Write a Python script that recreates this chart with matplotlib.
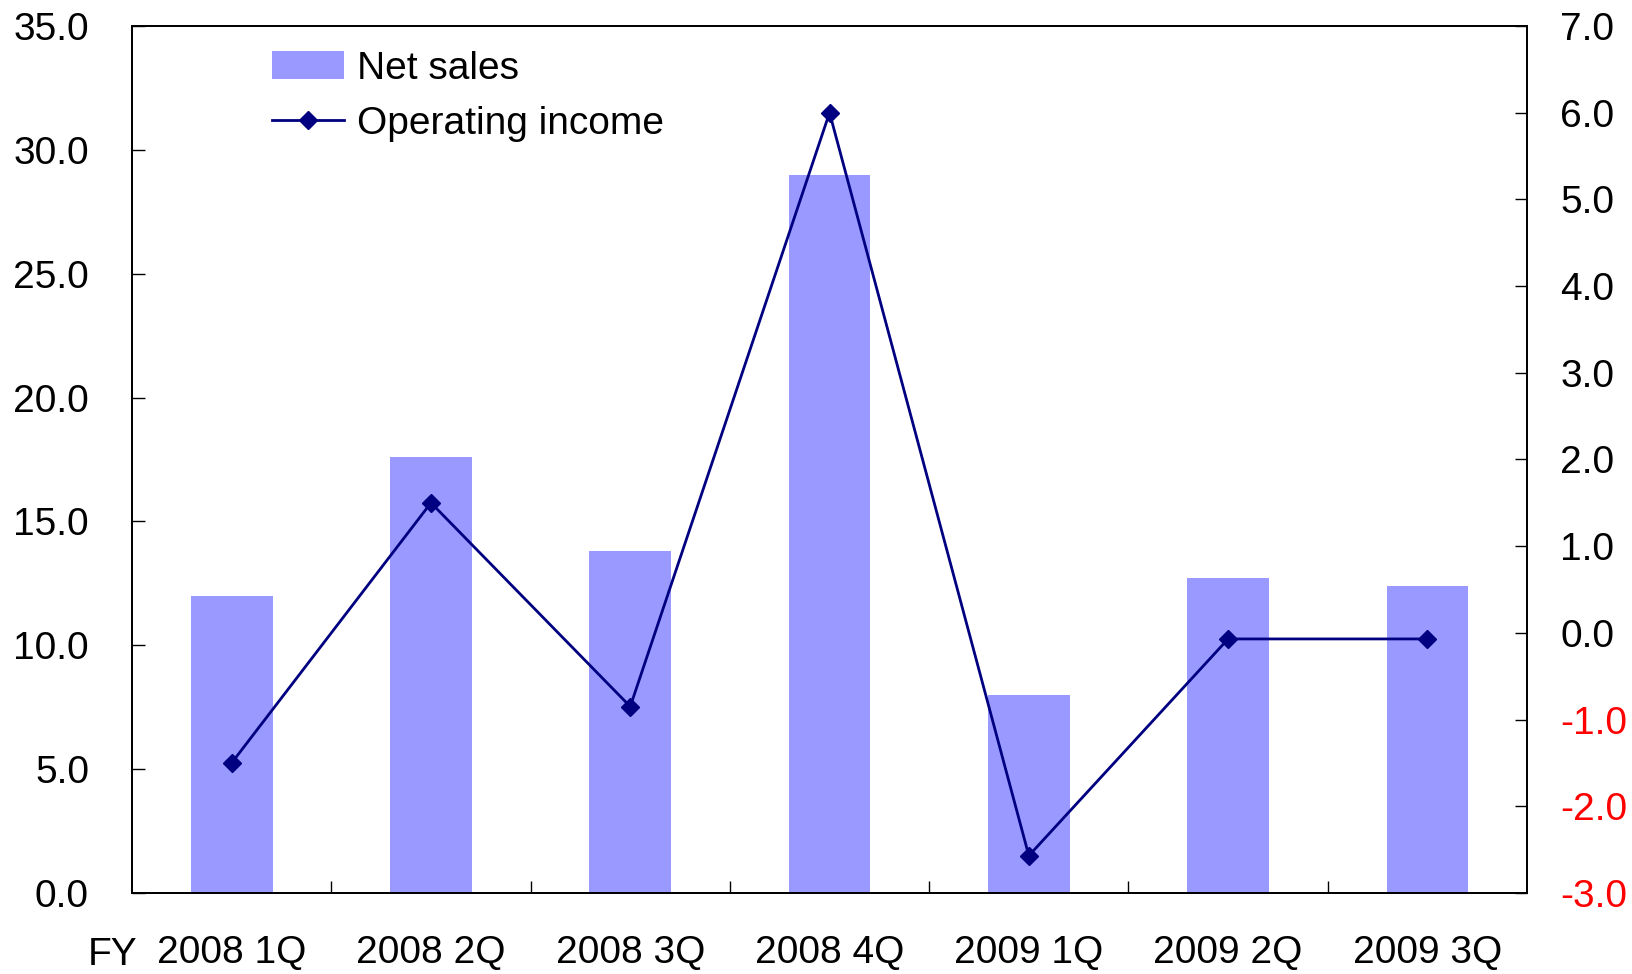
import numpy as np
import matplotlib.pyplot as plt

quarters = ["2008 1Q", "2008 2Q", "2008 3Q", "2008 4Q", "2009 1Q", "2009 2Q", "2009 3Q"]
net_sales = [12.0, 17.6, 13.8, 29.0, 8.0, 12.7, 12.4]
operating_income = [-1.5, 1.5, -0.85, 6.0, -2.57, -0.07, -0.07]

left_ticks = np.arange(0, 35.1, 5)
right_ticks = np.arange(-3, 7.1, 1)

plt.rcParams['font.family'] = ['Liberation Sans', 'DejaVu Sans']

fig = plt.figure(figsize=(16.32, 9.74), dpi=100)
ax = fig.add_axes([0.0809, 0.0832, 0.8548, 0.8901])
x = np.arange(len(quarters))

bars = ax.bar(x, net_sales, width=0.41, color='#9999FF', label='Net sales', zorder=1)
ax.set_xlim(-0.5, len(quarters) - 0.5)
ax.set_ylim(0, 35)
ax.set_yticks(left_ticks)
ax.set_yticklabels([f"{v:.1f}" for v in left_ticks])

# category boundaries carry the tick marks, centres carry the labels
ax.set_xticks(np.arange(0.5, len(quarters) - 0.5, 1))
ax.set_xticklabels([])
ax.set_xticks(x, minor=True)
ax.set_xticklabels(quarters, minor=True)
ax.tick_params(axis='x', which='major', direction='in', length=9, width=1)
ax.tick_params(axis='x', which='minor', length=0, pad=30, labelsize=28)
ax.tick_params(axis='y', direction='in', length=9, width=1, pad=31, labelsize=28)

ax2 = ax.twinx()
line, = ax2.plot(x, operating_income, color='#000080', lw=2, marker='D', ms=9,
                 label='Operating income', zorder=3)
ax2.set_ylim(-3, 7)
ax2.set_yticks(right_ticks)
ax2.set_yticklabels([f"{v:.1f}" for v in right_ticks])
ax2.tick_params(axis='y', direction='in', length=9, width=1, pad=24, labelsize=28)
for lbl, v in zip(ax2.get_yticklabels(), right_ticks):
    if v < 0:
        lbl.set_color('#FF0000')

for a in (ax, ax2):
    for s in a.spines.values():
        s.set_linewidth(1.3)

fig.text(0.054, 0.0195, "FY", fontsize=28, ha='left', va='center')

ax.legend([bars, line], ['Net sales', 'Operating income'], loc='upper left',
          bbox_to_anchor=(0.075, 1.012), frameon=False, fontsize=28,
          handlelength=1.85, handletextpad=0.35, labelspacing=0.5)

fig.savefig("out.png", dpi=100)
